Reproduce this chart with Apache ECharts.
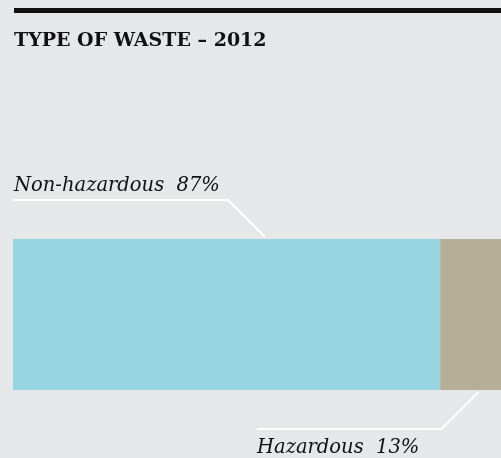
<!DOCTYPE html>
<html>
<head>
<meta charset="utf-8">
<script src="https://cdn.jsdelivr.net/npm/echarts@6/dist/echarts.min.js"></script>
<style>
  html, body { margin: 0; padding: 0; background: #e6e7e9; }
  #chart { width: 501px; height: 458px; }
</style>
</head>
<body>
<div id="chart"></div>
<script>
// Waste composition for 2012, share of total (%)
const categories = ['2012'];
const nonHazardous = [87];
const hazardous = [13];
const seriesNames = ['Non-hazardous', 'Hazardous'];
const title = 'TYPE OF WASTE – 2012';

const BG = '#e6e7e9';
const BLUE = '#97d6e0';
const TAN = '#b5af98';
const INK = '#111111';
const labelFont = 'italic 19.5px "DejaVu Serif", serif';

const chart = echarts.init(document.getElementById('chart'), null, { renderer: 'canvas' });

chart.setOption({
  backgroundColor: BG,
  animation: false,
  // the bar runs slightly past the right edge of the page
  grid: { left: 13, width: 491, top: 239, height: 151, containLabel: false, outerBoundsMode: 'none' },
  xAxis: { type: 'value', min: 0, max: 100, show: false },
  yAxis: { type: 'category', data: categories, show: false },
  series: [
    {
      name: seriesNames[0], type: 'bar', stack: 'total',
      data: nonHazardous, barWidth: '100%', barCategoryGap: 0,
      itemStyle: { color: BLUE }, silent: true
    },
    {
      name: seriesNames[1], type: 'bar', stack: 'total',
      data: hazardous, barWidth: '100%', barCategoryGap: 0,
      itemStyle: { color: TAN }, silent: true
    }
  ]
});

// Leader lines and labels placed from the bar geometry
function drawAnnotations() {
  const cat = categories[0];
  const x0 = chart.convertToPixel({ gridIndex: 0 }, [0, cat])[0];
  const x1 = chart.convertToPixel({ gridIndex: 0 }, [nonHazardous[0], cat])[0];
  const x2 = chart.convertToPixel({ gridIndex: 0 }, [nonHazardous[0] + hazardous[0], cat])[0];
  const bandHalf = 151 / 2;
  const yc = chart.convertToPixel({ gridIndex: 0 }, [0, cat])[1];
  const top = yc - bandHalf;
  const bottom = yc + bandHalf;

  const gap = 2, rise = 37;
  // upper leader for the first segment
  const aX = x0 + (x1 - x0) * 0.59;
  const aY = top - gap;
  const upper = [[x0, aY - rise], [aX - rise, aY - rise], [aX, aY]];
  // lower leader for the second segment
  const bX = x1 + (x2 - x1) * 0.6;
  const bY = bottom + gap;
  const lowerEndX = x0 + 244;
  const lower = [[bX, bY], [bX - rise, bY + rise], [lowerEndX, bY + rise]];

  const lineStyle = { stroke: '#ffffff', lineWidth: 2, fill: null };

  chart.setOption({
    graphic: [
      // heading rule
      { type: 'rect', left: 14, top: 8, shape: { width: 487, height: 5 }, style: { fill: INK }, silent: true },
      { type: 'text', x: 14, y: 32,
        style: { text: title, font: 'bold 19px "DejaVu Serif", serif', fill: INK } },
      { type: 'polyline', shape: { points: upper }, style: lineStyle, silent: true },
      { type: 'polyline', shape: { points: lower }, style: lineStyle, silent: true },
      { type: 'text', x: x0 + 1, y: aY - rise - 24,
        style: { text: seriesNames[0] + '  ' + nonHazardous[0] + '%', font: labelFont, fill: INK } },
      { type: 'text', x: lowerEndX, y: bY + rise + 9,
        style: { text: seriesNames[1] + '  ' + hazardous[0] + '%', font: labelFont, fill: INK } }
    ]
  });
}
drawAnnotations();
</script>
</body>
</html>
